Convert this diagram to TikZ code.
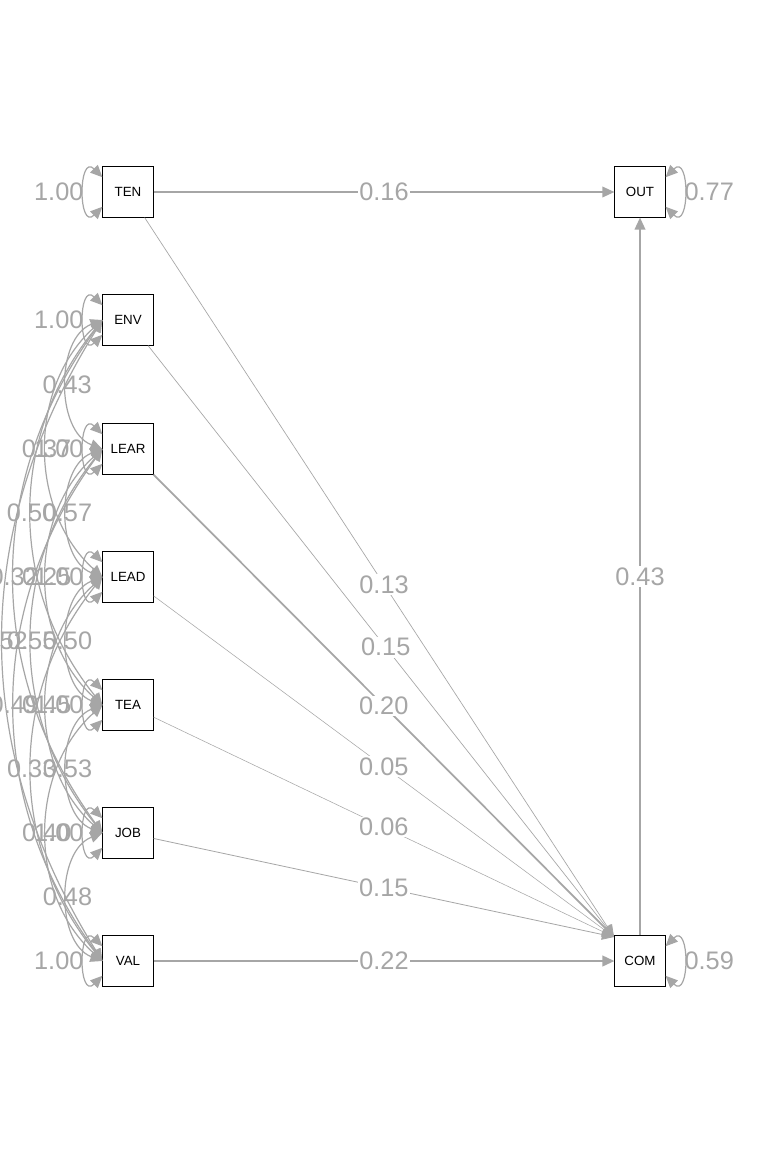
\documentclass[tikz,border=0pt]{standalone}
\usepackage{fontspec}
\setmainfont{Liberation Sans}
\usetikzlibrary{arrows.meta}
\begin{document}
\begin{tikzpicture}[x=0.75pt,y=-0.75pt,
  box/.style={draw,fill=white,minimum width=38pt,minimum height=38pt,inner sep=0pt,font=\fontsize{10}{12}\selectfont},
  ed/.style={draw=gray!70,-{Triangle[length=9pt,width=8pt]}},
  cv/.style={draw=gray!70,line width=0.9pt,{Triangle[length=9pt,width=8pt]}-{Triangle[length=9pt,width=8pt]}},
  lb/.style={text=gray!70,font=\fontsize{19}{21}\selectfont,fill=white,inner sep=1pt}]
\useasboundingbox (0,0) rectangle (768,1152);
\fill[white] (0,0) rectangle (768,1152);
\node[box] (TEN) at (128,192) {TEN};
\node[box] (ENV) at (128,320) {ENV};
\node[box] (LEAR) at (128,449) {LEAR};
\node[box] (LEAD) at (128,577) {LEAD};
\node[box] (TEA) at (128,705) {TEA};
\node[box] (JOB) at (128,833) {JOB};
\node[box] (VAL) at (128,961) {VAL};
\node[box] (OUT) at (640,192) {OUT};
\node[box] (COM) at (640,961) {COM};
% regressions
\path[ed,line width=1.0pt] (TEN) -- node[lb]{0.16} (OUT);
\path[ed,line width=1.2pt] (COM) -- node[lb,pos=0.5]{0.43} (OUT);
\coordinate (c1) at (614,937);
\path[ed,line width=0.5pt] (TEN) -- node[lb,pos=0.51]{0.13} (c1);
\path[ed,line width=0.5pt] (ENV) -- node[lb,pos=0.51]{0.15} (c1);
\path[ed,line width=1.3pt] (LEAR) -- node[lb,pos=0.5]{0.20} (c1);
\path[ed,line width=0.4pt] (LEAD) -- node[lb,pos=0.5]{0.05} (c1);
\path[ed,line width=0.4pt] (TEA) -- node[lb,pos=0.5]{0.06} (c1);
\path[ed,line width=0.6pt] (JOB) -- node[lb,pos=0.5]{0.15} (c1);
\path[ed,line width=1.4pt] (VAL) -- node[lb]{0.22} (COM);
% covariances
\foreach \a/\b/\ang/\v in {
 ENV/LEAD/48/0.37, LEAR/TEA/48/0.25, LEAD/JOB/48/0.45, TEA/VAL/48/0.40,
 ENV/TEA/39/0.50, LEAR/JOB/39/0.55, LEAD/VAL/39/0.33,
 ENV/JOB/36/0.32, LEAR/VAL/36/0.49, ENV/VAL/32/0.52,
 ENV/LEAR/69/0.43, LEAR/LEAD/69/0.57, LEAD/TEA/69/0.50, TEA/JOB/69/0.53, JOB/VAL/69/0.48}
 {\path[cv] (\a.west) to[bend right=\ang] node[lb,fill=none]{\v} (\b.west);}
% variances
\foreach \n in {TEN,ENV,LEAR,LEAD,TEA,JOB,VAL}
 {\path[cv] (\n.150) to[out=135,in=225,looseness=3] node[lb,fill=none,anchor=east,inner sep=0pt]{1.00} (\n.210);}
\path[cv] (OUT.30) to[out=45,in=-45,looseness=3] node[lb,fill=none,anchor=west,inner sep=0pt]{0.77} (OUT.-30);
\path[cv] (COM.30) to[out=45,in=-45,looseness=3] node[lb,fill=none,anchor=west,inner sep=0pt]{0.59} (COM.-30);
\end{tikzpicture}
\end{document}
